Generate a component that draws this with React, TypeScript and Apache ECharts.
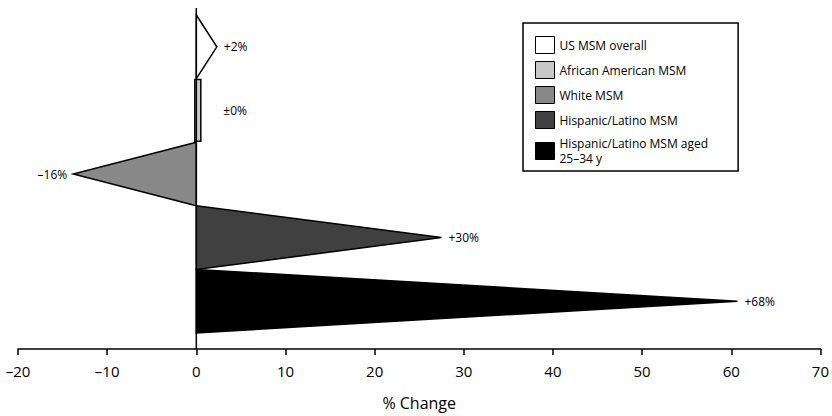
import React, { useEffect, useRef } from "react";
import * as echarts from "echarts";

const categories = [
  "US MSM overall",
  "African American MSM",
  "White MSM",
  "Hispanic/Latino MSM",
  "Hispanic/Latino MSM aged\n25–34 y",
];
// tip positions as drawn in the figure (x-axis units)
const plottedValues = [2.3, 0, -13.8, 27.5, 60.7];
const changeLabels = ["+2%", "±0%", "–16%", "+30%", "+68%"];
const xMin = -20;
const xMax = 70;
const xInterval = 10;

const fills = ["#ffffff", "#c8c8c8", "#888888", "#404040", "#000000"];
const FONT = "'Open Sans', sans-serif";

export default function App() {
  const ref = useRef<HTMLDivElement>(null);
  useEffect(() => {
    if (!ref.current) return;
    const chart = echarts.init(ref.current, undefined, { renderer: "svg" });

    const series: any[] = categories.map((name, i) => ({
      type: "custom",
      name,
      coordinateSystem: "cartesian2d",
      encode: { x: 0, y: 1 },
      itemStyle: { color: fills[i], borderColor: "#000", borderWidth: 1 },
      data: [[plottedValues[i], i]],
      z: 2,
      renderItem: (params: any, api: any) => {
        const idx = api.value(1);
        const v = api.value(0);
        const c0 = api.coord([0, idx]);
        const c1 = api.coord([v, idx]);
        const h = api.size([0, 1])[1];
        const top = c0[1] - h / 2;
        const bottom = c0[1] + h / 2;
        const children: any[] = [];
        if (v === 0) {
          children.push({
            type: "rect",
            shape: { x: c0[0] - 1.5, y: top + 1, width: 6, height: h - 2 },
            style: { fill: fills[i], stroke: "#000", lineWidth: 1.5 },
          });
          children.push({
            type: "text",
            style: {
              x: c0[0] + 27,
              y: c0[1],
              text: changeLabels[i],
              fill: "#000",
              font: `12px ${FONT}`,
              verticalAlign: "middle",
              align: "left",
            },
          });
        } else {
          children.push({
            type: "polygon",
            shape: {
              points: [
                [c0[0], top],
                [c1[0], c1[1]],
                [c0[0], bottom],
              ],
            },
            style: { fill: fills[i], stroke: "#000", lineWidth: 1.5, lineJoin: "miter" },
          });
          const neg = v < 0;
          children.push({
            type: "text",
            style: {
              x: c1[0] + (neg ? -6 : 7),
              y: c1[1],
              text: changeLabels[i],
              fill: "#000",
              font: `12px ${FONT}`,
              verticalAlign: "middle",
              align: neg ? "right" : "left",
            },
          });
        }
        return { type: "group", children };
      },
    }));

    series.push({
      type: "custom",
      coordinateSystem: "cartesian2d",
      encode: { x: 0, y: 1 },
      data: [[0, 0]],
      z: 5,
      silent: true,
      renderItem: (params: any, api: any) => {
        const c0 = api.coord([0, 0]);
        const cs = params.coordSys;
        return {
          type: "line",
          shape: { x1: c0[0], y1: cs.y - 7, x2: c0[0], y2: cs.y + cs.height + 16 },
          style: { stroke: "#000", lineWidth: 1.5 },
        };
      },
    });

    chart.setOption({
      animation: false,
      textStyle: { fontFamily: FONT },
      grid: { left: 18, right: 8, top: 15, bottom: 82, containLabel: false },
      legend: {
        data: categories,
        orient: "vertical",
        left: 523,
        top: 23,
        itemWidth: 19,
        itemHeight: 17,
        itemGap: 7,
        padding: [13, 30, 5, 12],
        borderColor: "#000",
        borderWidth: 1.5,
        backgroundColor: "#fff",
        selectedMode: false,
        icon: "rect",
        itemStyle: { borderColor: "#000", borderWidth: 1 },
        textStyle: { fontSize: 12, color: "#000", fontFamily: FONT, lineHeight: 15 },
      },
      xAxis: {
        type: "value",
        min: xMin,
        max: xMax,
        interval: xInterval,
        offset: 16,
        name: "% Change",
        nameLocation: "middle",
        nameGap: 46,
        nameTextStyle: { fontSize: 16, color: "#000", fontFamily: FONT },
        axisLine: { show: true, lineStyle: { color: "#000", width: 1.5 } },
        axisTick: { show: true, length: 6, lineStyle: { color: "#000", width: 1.5 } },
        axisLabel: {
          fontSize: 15,
          color: "#000",
          margin: 14,
          fontFamily: FONT,
          formatter: (val: number) => String(val).replace("-", "–"),
        },
        splitLine: { show: false },
      },
      yAxis: {
        type: "category",
        data: categories,
        inverse: true,
        show: false,
      },
      series,
    });
    return () => chart.dispose();
  }, []);
  return (
    <div
      ref={ref}
      style={{ position: "fixed", left: 0, top: 0, width: 832, height: 416, background: "#fff" }}
    />
  );
}
